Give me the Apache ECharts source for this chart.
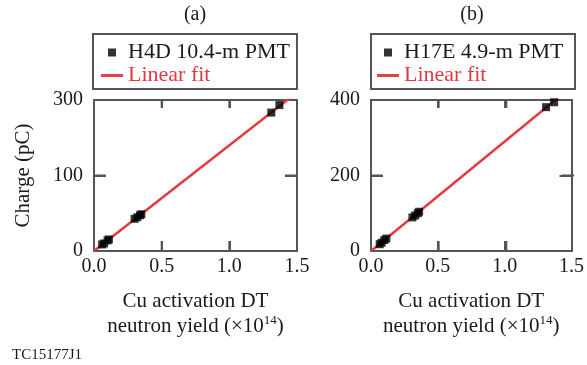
<!DOCTYPE html>
<html>
<head>
<meta charset="utf-8">
<script src="https://cdn.jsdelivr.net/npm/echarts@6/dist/echarts.min.js"></script>
<style>
html, body { margin: 0; padding: 0; background: #fff; }
#main { width: 587px; height: 365px; }
</style>
</head>
<body>
<div id="main"></div>
<script>
// data
var nameA = 'H4D 10.4-m PMT';
var nameB = 'H17E 4.9-m PMT';
var pointsA = [[0.06,13],[0.075,15],[0.10,21],[0.11,23],[0.30,64],[0.32,67],[0.34,71],[0.35,73],[1.31,275],[1.37,290]];
var pointsB = [[0.065,18],[0.08,22],[0.10,29],[0.115,33],[0.31,89],[0.33,94],[0.35,100],[0.36,104],[1.31,381],[1.37,394]];
var fitA = [[0, 0], [1.5, 315]];
var fitB = [[0, 0], [1.5, 435]];
var xTicks = [0.5, 1.0];
var yTicksA = ['0', '100', '300'];   // labels as printed in the figure
var yTicksB = ['0', '200', '400'];

var serif = 'Liberation Serif';
var axisGray = '#555';
var red = '#e23a3f';
var grids = [
  {left: 94, top: 100, width: 203, height: 151},
  {left: 371, top: 100, width: 203, height: 151}
];

var myChart = echarts.init(document.getElementById('main'));

function xAx(grid, top) {
  return {
    gridIndex: grid, type: 'value', min: 0, max: 1.5, interval: 0.5,
    position: top ? 'top' : 'bottom',
    axisLine: {show: true, onZero: false, lineStyle: {color: axisGray, width: 2}},
    axisTick: {show: true, inside: true, length: top ? 8 : 10, lineStyle: {color: axisGray, width: 2}},
    axisLabel: top ? {show: false} : {
      show: true, margin: 6, color: '#1a1a1a', fontFamily: serif, fontSize: 20,
      formatter: function (v) { return v.toFixed(1); }
    },
    splitLine: {show: false},
    name: top ? '' : 'Cu activation DT\nneutron yield (×10{sup|14})',
    nameLocation: 'middle', nameGap: 38,
    nameTextStyle: {
      color: '#1a1a1a', fontFamily: serif, fontSize: 21, lineHeight: 25,
      rich: {sup: {fontSize: 13, fontFamily: serif, color: '#1a1a1a', verticalAlign: 'top', lineHeight: 14}}
    }
  };
}

function yAx(grid, right, max, labels, name) {
  var step = max / 2;
  return {
    gridIndex: grid, type: 'value', min: 0, max: max, interval: step,
    position: right ? 'right' : 'left',
    axisLine: {show: true, onZero: false, lineStyle: {color: axisGray, width: 2}},
    axisTick: {show: true, inside: true, length: 12, lineStyle: {color: axisGray, width: 2}},
    axisLabel: right ? {show: false} : {
      show: true, margin: 11, color: '#1a1a1a', fontFamily: serif, fontSize: 20,
      formatter: function (v) { return labels[Math.round(v / step)]; }
    },
    splitLine: {show: false},
    name: name || '', nameLocation: 'middle', nameGap: 60,
    nameTextStyle: {color: '#1a1a1a', fontFamily: serif, fontSize: 21}
  };
}

function legendFor(left, name, fitName) {
  return {
    left: left, top: 41, orient: 'vertical', itemWidth: 22, itemHeight: 8, itemGap: 0,
    padding: 0, selectedMode: false, symbolKeepAspect: true,
    textStyle: {fontFamily: serif, fontSize: 22, lineHeight: 23, color: '#1a1a1a'},
    data: [
      {name: name, icon: 'path://M0,0L1,0L1,1L0,1Z'},
      {name: fitName, icon: 'path://M0,0L20,0L20,2.6L0,2.6Z', textStyle: {color: red}}
    ]
  };
}

var graphics = [
  {type: 'rect', shape: {x: 93, y: 34, width: 204, height: 55}, style: {fill: 'none', stroke: axisGray, lineWidth: 2}},
  {type: 'rect', shape: {x: 371, y: 34, width: 204, height: 55}, style: {fill: 'none', stroke: axisGray, lineWidth: 2}},
  {type: 'text', x: 195, y: 15, style: {text: '(a)', font: '20px "Liberation Serif"', fill: '#1a1a1a', textAlign: 'center', textVerticalAlign: 'middle'}},
  {type: 'text', x: 472, y: 15, style: {text: '(b)', font: '20px "Liberation Serif"', fill: '#1a1a1a', textAlign: 'center', textVerticalAlign: 'middle'}},
  {type: 'text', x: 12, y: 355, style: {text: 'TC15177J1', font: '15px "Liberation Serif"', fill: '#1a1a1a', textAlign: 'left', textVerticalAlign: 'middle'}}
];

// inward ticks on the four sides of each frame, as thin filled bars
function bar(x, y, w, h) {
  return {type: 'rect', shape: {x: x, y: y, width: w, height: h}, style: {fill: axisGray, stroke: 'none'}, z: 100};
}
grids.forEach(function (g) {
  var bottom = g.top + g.height, right = g.left + g.width, mid = g.top + g.height / 2;
  xTicks.forEach(function (x) {
    var px = g.left + x / 1.5 * g.width;
    graphics.push(bar(px - 1, bottom - 10, 2, 10));
    graphics.push(bar(px - 1, g.top, 2, 8));
  });
  graphics.push(bar(g.left, mid - 1, 12, 2));
  graphics.push(bar(right - 12, mid - 1, 12, 2));
});

var option = {
  animation: false,
  grid: grids,
  xAxis: [xAx(0, false), xAx(0, true), xAx(1, false), xAx(1, true)],
  yAxis: [
    yAx(0, false, 300, yTicksA, 'Charge (pC)'), yAx(0, true, 300, yTicksA),
    yAx(1, false, 400, yTicksB), yAx(1, true, 400, yTicksB)
  ],
  legend: [legendFor(101, nameA, 'Linear fit '), legendFor(377, nameB, 'Linear fit  ')],
  graphic: {elements: graphics},
  series: [
    {name: 'Linear fit ', type: 'line', xAxisIndex: 0, yAxisIndex: 0, data: fitA, showSymbol: false, clip: true,
      lineStyle: {color: red, width: 2.5}, itemStyle: {color: red}, z: 2},
    {name: nameA, type: 'scatter', xAxisIndex: 0, yAxisIndex: 0, data: pointsA, symbol: 'rect', symbolSize: 8,
      itemStyle: {color: '#000'}, z: 3},
    {name: 'Linear fit  ', type: 'line', xAxisIndex: 2, yAxisIndex: 2, data: fitB, showSymbol: false, clip: true,
      lineStyle: {color: red, width: 2.5}, itemStyle: {color: red}, z: 2},
    {name: nameB, type: 'scatter', xAxisIndex: 2, yAxisIndex: 2, data: pointsB, symbol: 'rect', symbolSize: 8,
      itemStyle: {color: '#000'}, z: 3}
  ]
};

myChart.setOption(option);
</script>
</body>
</html>
